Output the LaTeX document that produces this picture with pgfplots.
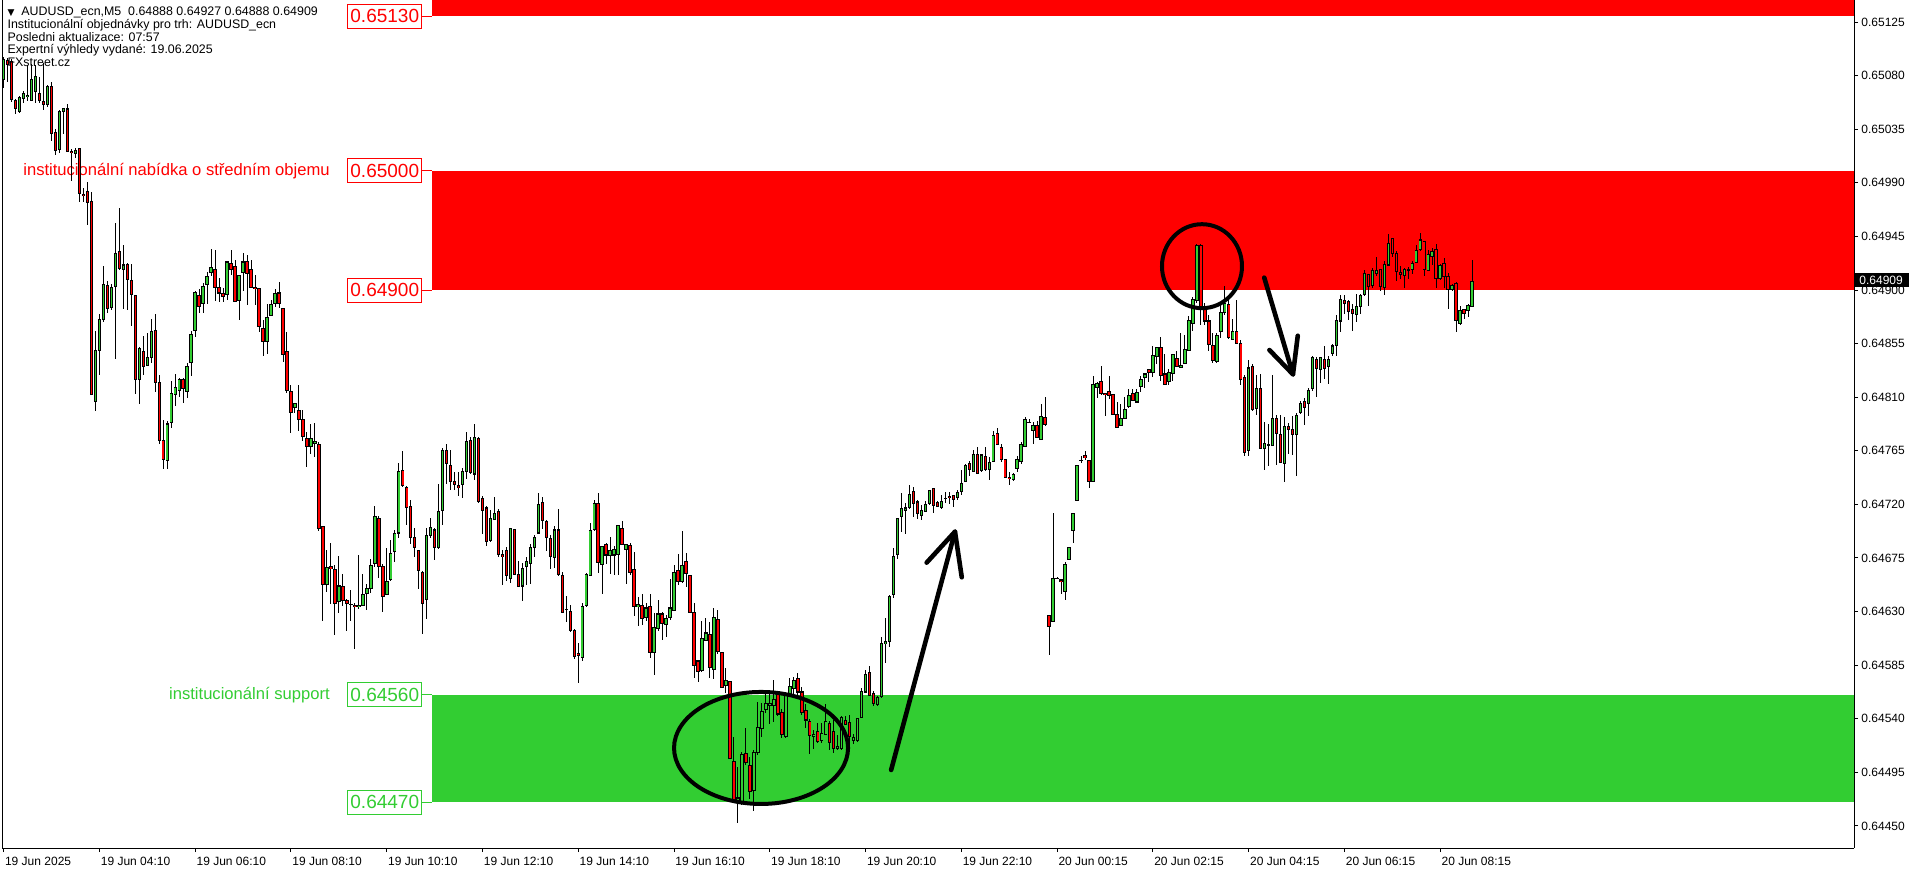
\documentclass[border=0pt]{standalone}
\usepackage{fontspec}
\setmainfont{Liberation Sans}
\newfontfamily\dejavu{DejaVu Sans}
\usepackage{pgfplots}
\usepackage{pgfplotstable}
\pgfplotsset{compat=1.18}
\definecolor{mtgreen}{RGB}{50,205,50}
\definecolor{mtred}{RGB}{255,0,0}
% prices in units of 0.00001 (e.g. 64909 = 0.64909); rows = M5 bars
\pgfplotstableread{
o h l c
65077 65097 65071 65094
65094 65096 65076 65090
65092 65094 65058 65060
65060 65061 65049 65053
65050 65064 65050 65062
65062 65068 65058 65066
65064 65090 65060 65065
65060 65090 65059 65077
65067 65090 65058 65080
65066 65080 65058 65060
65059 65091 65052 65056
65057 65074 65055 65072
65072 65076 65026 65033
65033 65035 65013 65018
65019 65052 65016 65051
65050 65054 65032 65053
65053 65056 65016 65017
65017 65019 64992 65016
65016 65020 65011 65018
65019 65020 64975 64981
64981 64987 64975 64980
64984 64992 64956 64975
64975 64983 64812 64813
64807 64866 64798 64850
64850 64881 64830 64876
64876 64922 64875 64905
64905 64908 64881 64886
64886 64906 64884 64903
64903 64956 64842 64931
64932 64969 64917 64918
64918 64938 64884 64922
64922 64924 64884 64909
64909 64923 64871 64897
64896 64897 64814 64825
64826 64853 64805 64852
64850 64862 64830 64837
64838 64865 64837 64844
64844 64876 64839 64866
64867 64880 64814 64823
64823 64829 64771 64774
64774 64792 64751 64758
64758 64791 64751 64789
64789 64825 64785 64814
64813 64831 64804 64819
64815 64826 64810 64824
64825 64827 64806 64817
64815 64840 64810 64836
64840 64866 64828 64864
64866 64900 64861 64898
64897 64902 64882 64888
64889 64906 64881 64903
64905 64916 64889 64912
64915 64935 64912 64919
64918 64934 64891 64903
64903 64911 64891 64898
64898 64903 64891 64896
64896 64924 64892 64923
64923 64935 64914 64918
64920 64926 64891 64891
64892 64914 64876 64913
64915 64932 64900 64924
64924 64929 64887 64914
64918 64926 64903 64903
64903 64914 64889 64902
64901 64903 64866 64869
64868 64877 64847 64857
64858 64889 64847 64878
64880 64892 64878 64889
64890 64901 64886 64898
64898 64908 64886 64889
64886 64886 64841 64847
64848 64866 64815 64816
64816 64820 64780 64798
64802 64806 64797 64805
64799 64820 64782 64791
64792 64799 64773 64778
64776 64781 64752 64769
64770 64788 64763 64776
64772 64788 64760 64773
64771 64773 64699 64700
64703 64703 64624 64654
64654 64682 64647 64668
64668 64689 64637 64667
64667 64669 64610 64638
64639 64678 64630 64652
64652 64663 64636 64640
64639 64642 64615 64637
64637 64648 64622 64637
64636 64638 64600 64635
64635 64678 64633 64636
64636 64662 64635 64645
64646 64654 64632 64650
64650 64676 64647 64670
64670 64719 64668 64710
64710 64710 64658 64669
64668 64670 64630 64643
64645 64684 64645 64656
64658 64691 64656 64680
64681 64699 64672 64696
64697 64756 64693 64749
64749 64766 64736 64736
64735 64736 64703 64718
64719 64724 64687 64693
64694 64702 64677 64685
64682 64682 64650 64665
64664 64665 64612 64638
64640 64701 64624 64694
64694 64709 64692 64701
64699 64701 64674 64684
64684 64737 64682 64714
64715 64769 64704 64766
64766 64771 64738 64755
64753 64766 64733 64740
64740 64748 64733 64737
64737 64747 64727 64735
64737 64751 64726 64748
64748 64781 64742 64773
64774 64778 64747 64747
64747 64788 64741 64778
64777 64778 64723 64724
64726 64727 64695 64716
64718 64720 64686 64690
64690 64716 64689 64709
64708 64727 64708 64713
64714 64717 64677 64678
64679 64682 64652 64677
64682 64685 64656 64661
64659 64701 64655 64701
64700 64701 64662 64662
64662 64673 64652 64652
64652 64671 64639 64667
64668 64676 64652 64672
64672 64687 64653 64685
64685 64696 64677 64694
64697 64729 64696 64721
64722 64727 64700 64707
64706 64708 64682 64692
64691 64695 64667 64676
64676 64702 64667 64699
64700 64717 64661 64663
64662 64663 64631 64631
64632 64643 64621 64632
64631 64637 64614 64615
64615 64616 64591 64593
64595 64605 64571 64593
64593 64638 64589 64636
64636 64664 64635 64662
64661 64705 64661 64699
64699 64725 64699 64721
64722 64730 64663 64672
64670 64686 64646 64685
64687 64689 64671 64678
64678 64693 64662 64682
64678 64686 64662 64683
64678 64704 64662 64702
64701 64706 64686 64687
64683 64687 64654 64687
64687 64688 64661 64664
64666 64681 64627 64635
64634 64643 64619 64636
64636 64646 64620 64625
64625 64638 64623 64633
64635 64646 64592 64596
64596 64630 64578 64617
64617 64641 64615 64629
64628 64631 64607 64620
64620 64628 64609 64625
64625 64657 64623 64633
64632 64670 64632 64664
64666 64679 64653 64657
64657 64699 64655 64670
64672 64680 64651 64662
64662 64662 64631 64631
64631 64638 64575 64586
64589 64590 64572 64580
64580 64623 64580 64607
64606 64626 64606 64612
64611 64623 64576 64583
64582 64633 64573 64626
64625 64633 64596 64598
64597 64597 64567 64568
64569 64584 64563 64573
64572 64572 64507 64508
64505 64525 64470 64472
64473 64500 64453 64474
64471 64512 64468 64511
64512 64533 64502 64504
64502 64508 64473 64480
64480 64514 64463 64512
64512 64556 64511 64533
64533 64554 64525 64547
64547 64563 64545 64552
64553 64564 64536 64554
64552 64573 64538 64557
64561 64563 64543 64545
64545 64549 64525 64526
64526 64564 64525 64561
64560 64575 64559 64568
64567 64576 64561 64574
64574 64580 64561 64563
64563 64568 64545 64546
64548 64552 64532 64540
64539 64540 64511 64527
64526 64532 64516 64528
64529 64537 64520 64521
64522 64537 64520 64528
64528 64552 64526 64539
64537 64540 64515 64521
64530 64539 64511 64516
64516 64528 64515 64518
64516 64543 64515 64542
64540 64543 64536 64537
64537 64543 64519 64526
64522 64528 64519 64525
64522 64540 64521 64540
64542 64566 64542 64564
64564 64582 64564 64579
64580 64585 64561 64561
64562 64564 64552 64553
64553 64561 64552 64559
64559 64609 64558 64604
64604 64625 64587 64605
64605 64645 64601 64643
64645 64684 64642 64677
64678 64709 64676 64708
64709 64729 64696 64716
64715 64721 64695 64717
64718 64737 64717 64729
64732 64735 64710 64722
64723 64724 64708 64713
64712 64719 64706 64716
64715 64723 64715 64721
64721 64733 64720 64732
64734 64735 64714 64720
64722 64723 64718 64719
64718 64729 64717 64723
64726 64731 64722 64726
64727 64731 64721 64726
64728 64729 64719 64725
64726 64732 64724 64730
64731 64750 64729 64738
64740 64754 64739 64753
64755 64758 64745 64750
64749 64766 64748 64763
64763 64769 64747 64747
64749 64763 64748 64762
64762 64769 64749 64751
64750 64761 64742 64756
64757 64782 64757 64779
64781 64784 64770 64772
64769 64771 64756 64759
64759 64759 64743 64744
64743 64747 64736 64742
64742 64747 64740 64746
64751 64761 64747 64759
64757 64773 64755 64771
64770 64794 64770 64792
64790 64792 64789 64790
64783 64789 64771 64787
64787 64790 64776 64777
64776 64805 64775 64795
64794 64811 64787 64788
64628 64628 64595 64619
64622 64714 64622 64658
64658 64659 64657 64658
64658 64658 64645 64657
64647 64673 64641 64670
64675 64685 64675 64685
64699 64713 64688 64713
64724 64754 64724 64754
64758 64762 64756 64758
64761 64766 64759 64759
64757 64757 64735 64740
64739 64828 64739 64821
64818 64824 64810 64821
64824 64837 64812 64814
64814 64815 64796 64813
64816 64828 64809 64813
64813 64813 64796 64796
64796 64807 64785 64785
64786 64804 64786 64792
64793 64812 64793 64801
64803 64817 64801 64812
64814 64818 64808 64808
64807 64817 64807 64815
64820 64829 64815 64826
64827 64831 64818 64830
64833 64834 64823 64831
64832 64854 64828 64846
64845 64854 64839 64853
64853 64861 64824 64829
64830 64847 64821 64821
64823 64835 64821 64831
64830 64847 64824 64846
64843 64850 64836 64836
64836 64864 64836 64838
64839 64862 64838 64851
64850 64878 64850 64875
64872 64896 64867 64892
64892 64939 64890 64938
64938 64939 64871 64887
64887 64890 64871 64875
64875 64880 64850 64855
64854 64865 64840 64841
64841 64865 64840 64863
64865 64889 64860 64881
64881 64904 64880 64889
64889 64893 64859 64861
64860 64876 64859 64867
64866 64892 64855 64856
64857 64859 64821 64827
64827 64829 64761 64764
64765 64841 64761 64834
64836 64838 64799 64800
64801 64829 64795 64818
64818 64830 64767 64768
64768 64789 64749 64772
64771 64789 64754 64771
64771 64828 64771 64794
64793 64796 64754 64780
64780 64796 64756 64756
64756 64794 64740 64787
64787 64789 64763 64784
64784 64795 64762 64780
64780 64798 64745 64796
64798 64808 64797 64805
64808 64809 64787 64803
64805 64818 64795 64816
64817 64846 64817 64843
64842 64844 64810 64834
64834 64845 64823 64844
64843 64854 64826 64835
64837 64846 64823 64843
64848 64855 64845 64854
64854 64880 64846 64875
64875 64897 64866 64893
64892 64897 64881 64890
64891 64893 64876 64883
64884 64889 64867 64880
64880 64897 64874 64887
64887 64897 64880 64896
64897 64918 64896 64914
64914 64915 64888 64904
64904 64918 64901 64917
64915 64929 64913 64917
64917 64918 64900 64903
64904 64924 64896 64923
64923 64948 64922 64941
64943 64943 64929 64931
64932 64933 64908 64917
64915 64922 64911 64913
64913 64918 64901 64918
64918 64920 64910 64918
64918 64925 64914 64923
64924 64939 64924 64934
64935 64948 64933 64943
64941 64942 64913 64918
64917 64934 64916 64930
64930 64936 64922 64934
64934 64940 64903 64910
64911 64923 64910 64922
64923 64927 64902 64912
64912 64915 64885 64901
64901 64906 64900 64904
64905 64908 64866 64874
64872 64887 64871 64883
64884 64885 64877 64881
64883 64890 64879 64887
64888 64927 64888 64909
}\candles

\begin{document}
\begin{tikzpicture}
\path[use as bounding box] (0pt,0pt) rectangle (958pt,437pt);
\begin{axis}[
  at={(1pt,13pt)}, anchor=south west,
  scale only axis, width=926pt, height=424pt,
  xmin=-0.42, xmax=463.7, ymin=64431.5, ymax=65143.5,
  clip=false,
  axis x line*=bottom, axis y line*=right,
  axis line style={line width=0.5pt, black},
  xtick={0,24,48,72,96,120,144,168,192,216,240,264,288,312,336,360},
  xticklabels={19 Jun 2025,19 Jun 04:10,19 Jun 06:10,19 Jun 08:10,19 Jun 10:10,19 Jun 12:10,19 Jun 14:10,19 Jun 16:10,19 Jun 18:10,19 Jun 20:10,19 Jun 22:10,20 Jun 00:15,20 Jun 02:15,20 Jun 04:15,20 Jun 06:15,20 Jun 08:15},
  ytick={64450,64495,64540,64585,64630,64675,64720,64765,64810,64855,64900,64945,64990,65035,65080,65125},
  yticklabels={0.64450,0.64495,0.64540,0.64585,0.64630,0.64675,0.64720,0.64765,0.64810,0.64855,0.64900,0.64945,0.64990,0.65035,0.65080,0.65125},
  tick align=outside, major tick length=2pt,
  tick style={black, line width=0.5pt},
  ticklabel style={font=\fontsize{6}{7}\selectfont, inner sep=0pt},
  xticklabel style={anchor=north west, xshift=0.5pt, yshift=-2.5pt},
  yticklabel style={anchor=west, xshift=1.5pt},
  candle/.style={draw=none, no markers, forget plot,
    error bars/y dir=both, error bars/y explicit, error bars/error mark=none},
]
% zones
\addplot[fill=mtred, draw=none, forget plot] coordinates {(107.3,65130) (463.7,65130) (463.7,65143.5) (107.3,65143.5)};
\addplot[fill=mtred, draw=none, forget plot] coordinates {(107.3,64900) (463.7,64900) (463.7,65000) (107.3,65000)};
\addplot[fill=mtgreen, draw=none, forget plot] coordinates {(107.3,64470) (463.7,64470) (463.7,64560) (107.3,64560)};
\draw[line width=0.5pt] (rel axis cs:0,0) -- (rel axis cs:0,1);
% zone labels
\draw[mtred, line width=0.5pt] (axis cs:104.9,65130) -- (axis cs:107.3,65130);
\draw[mtred, line width=0.5pt] (axis cs:104.9,65000) -- (axis cs:107.3,65000);
\draw[mtred, line width=0.5pt] (axis cs:104.9,64900) -- (axis cs:107.3,64900);
\draw[mtgreen, line width=0.5pt] (axis cs:104.9,64560) -- (axis cs:107.3,64560);
\draw[mtgreen, line width=0.5pt] (axis cs:104.9,64470) -- (axis cs:107.3,64470);
\tikzset{zlab/.style={fill=white, line width=0.5pt, minimum width=37pt, minimum height=12pt, inner sep=0pt, font=\fontsize{9.5}{10}\selectfont}}
\node[zlab, draw=mtred, text=mtred] at (axis cs:95.5,65130) {0.65130};
\node[zlab, draw=mtred, text=mtred] at (axis cs:95.5,65000) {0.65000};
\node[zlab, draw=mtred, text=mtred] at (axis cs:95.5,64900) {0.64900};
\node[zlab, draw=mtgreen, text=mtgreen] at (axis cs:95.5,64560) {0.64560};
\node[zlab, draw=mtgreen, text=mtgreen] at (axis cs:95.5,64470) {0.64470};
\node[anchor=east, text=mtred, inner sep=0pt, font=\fontsize{8.3}{10}\selectfont] at (axis cs:81.8,65000) {institucionální nabídka o středním objemu};
\node[anchor=east, text=mtgreen, inner sep=0pt, font=\fontsize{8.3}{10}\selectfont] at (axis cs:81.8,64560) {institucionální support};
% candles: wicks
\addplot[candle, error bars/error bar style={line width=0.5pt, draw=black}]
  table[x expr=\coordindex, y expr={(\thisrow{h}+\thisrow{l})/2}, y error expr={(\thisrow{h}-\thisrow{l})/2}] {\candles};
% bodies (outline)
\addplot[candle, error bars/error bar style={line width=1.75pt, draw=black}]
  table[x expr=\coordindex, y expr={(\thisrow{o}+\thisrow{c})/2}, y error expr={abs(\thisrow{c}-\thisrow{o})/2+0.45}] {\candles};
% bullish fill
\addplot[candle, restrict expr to domain={\thisrow{c}-\thisrow{o}}{0:10000},
  error bars/error bar style={line width=0.8pt, draw=mtgreen}]
  table[x expr=\coordindex, y expr={(\thisrow{o}+\thisrow{c})/2}, y error expr={max(abs(\thisrow{c}-\thisrow{o})/2-0.45,0)}] {\candles};
% bearish fill
\addplot[candle, restrict expr to domain={\thisrow{o}-\thisrow{c}}{0.5:10000},
  error bars/error bar style={line width=0.8pt, draw=mtred}]
  table[x expr=\coordindex, y expr={(\thisrow{o}+\thisrow{c})/2}, y error expr={max(abs(\thisrow{c}-\thisrow{o})/2-0.45,0)}] {\candles};
% hand-drawn annotations
\draw[line width=2pt] (axis cs:189.8,64515.5) ellipse [x radius=43.5pt, y radius=28pt];
\draw[line width=2pt] (axis cs:300.3,64920) ellipse [x radius=20pt, y radius=21pt];
\addplot[black, line width=2.3pt, line cap=round, line join=round, forget plot] coordinates {(222.4,64497) (238.4,64697.1)};
\addplot[black, line width=2.3pt, line cap=round, line join=round, forget plot] coordinates {(231.3,64671.1) (238.4,64697.1) (240.1,64658.8)};
\addplot[black, line width=2.3pt, line cap=round, line join=round, forget plot] coordinates {(315.9,64910.4) (323.1,64829.2)};
\addplot[black, line width=2.3pt, line cap=round, line join=round, forget plot] coordinates {(317.2,64849.6) (323.1,64829.2) (324.3,64861.6)};
\end{axis}
% current price marker on the price scale
\fill[black] (927.5pt,293.3pt) rectangle (954.5pt,300.5pt);
\node[anchor=west, text=white, inner sep=0pt, font=\fontsize{6}{7}\selectfont] at (929.5pt,297pt) {0.64909};
% header
\tikzset{hdr/.style={anchor=west, inner sep=0pt, font=\fontsize{6.2}{7}\selectfont}}
\node[hdr] at (3.6pt,430.6pt) {{\dejavu\fontsize{4.5}{5}\selectfont ▼}\ \ AUDUSD\_ecn,M5\ \ 0.64888 0.64927 0.64888 0.64909};
\node[hdr] at (3.6pt,424.5pt) {Institucionální objednávky pro trh: AUDUSD\_ecn};
\node[hdr] at (3.6pt,418.3pt) {Posledni aktualizace: 07:57};
\node[hdr] at (3.6pt,412pt) {Expertní výhledy vydané: 19.06.2025};
\node[hdr] at (3.6pt,406.1pt) {FXstreet.cz};
\end{tikzpicture}
\end{document}
